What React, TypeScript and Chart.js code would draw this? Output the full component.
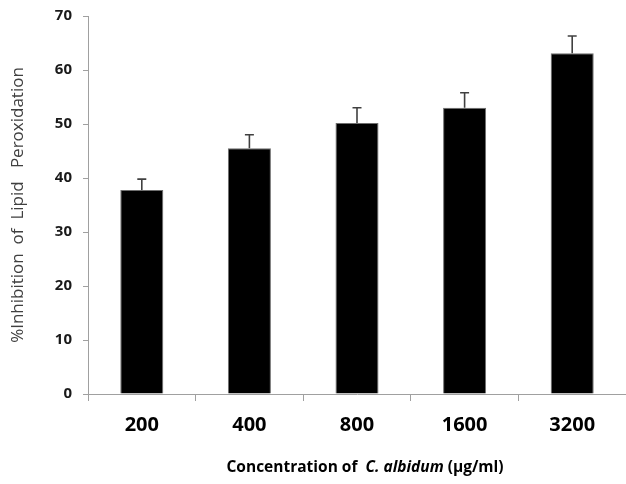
import React, { useEffect, useRef } from "react";
import { Chart, registerables } from "chart.js";

Chart.register(...registerables);

const categories = ["200", "400", "800", "1600", "3200"];
const values = [37.8, 45.5, 50.2, 53.0, 63.1];
const errors = [2.0, 2.5, 2.8, 2.8, 3.2];
const yTicks = [0, 10, 20, 30, 40, 50, 60, 70];

const FONT = "'Open Sans', 'Noto Sans', sans-serif";

const errorBarPlugin = {
  id: "errorBars",
  afterDatasetsDraw(chart: any) {
    const meta = chart.getDatasetMeta(0);
    const yScale = chart.scales.y;
    const ctx = chart.ctx;
    ctx.save();
    ctx.strokeStyle = "#404040";
    ctx.lineWidth = 1.6;
    meta.data.forEach((bar: any, i: number) => {
      const x = bar.x;
      const y0 = yScale.getPixelForValue(values[i]);
      const y1 = yScale.getPixelForValue(values[i] + errors[i]);
      ctx.beginPath();
      ctx.moveTo(x, y0);
      ctx.lineTo(x, y1);
      ctx.moveTo(x - 4.5, y1);
      ctx.lineTo(x + 4.5, y1);
      ctx.stroke();
    });
    ctx.restore();
  },
};

const xTitlePlugin = {
  id: "xTitle",
  afterDraw(chart: any) {
    const ctx = chart.ctx;
    const size = 15.5;
    const parts = [
      { t: "Concentration of  ", f: `bold ${size}px ${FONT}` },
      { t: "C. albidum", f: `italic bold ${size}px ${FONT}` },
      { t: " (µg/ml)", f: `bold ${size}px ${FONT}` },
    ];
    ctx.save();
    let total = 0;
    const widths = parts.map((p) => {
      ctx.font = p.f;
      const w = ctx.measureText(p.t).width;
      total += w;
      return w;
    });
    const ca = chart.chartArea;
    let x = (ca.left + ca.right) / 2 + 8 - total / 2;
    const y = 468;
    ctx.fillStyle = "#000000";
    ctx.textBaseline = "middle";
    ctx.textAlign = "left";
    parts.forEach((p, i) => {
      ctx.font = p.f;
      ctx.fillText(p.t, x, y);
      x += widths[i];
    });
    ctx.restore();
  },
};

export default function App() {
  const ref = useRef<HTMLCanvasElement>(null);
  useEffect(() => {
    document.body.style.margin = "0";
    const chart = new Chart(ref.current as HTMLCanvasElement, {
      type: "bar",
      data: {
        labels: categories,
        datasets: [
          {
            data: values,
            backgroundColor: "#000000",
            borderColor: "#6e6e6e",
            borderWidth: 1,
            categoryPercentage: 1,
            barPercentage: 0.4,
          },
        ],
      },
      options: {
        responsive: false,
        animation: false,
        layout: { padding: { top: 16, right: 0, left: 0, bottom: 0 } },
        plugins: { legend: { display: false }, tooltip: { enabled: false } },
        scales: {
          x: {
            grid: {
              offset: true,
              drawOnChartArea: false,
              drawTicks: true,
              tickLength: 7,
              color: "#a0a0a0",
            },
            border: { display: true, color: "#a0a0a0" },
            ticks: {
              color: "#000000",
              font: { family: FONT, size: 20, weight: "bold" },
              padding: 12,
              maxRotation: 0,
            },
            afterFit(scale: any) {
              scale.height = 90;
              scale.paddingLeft = 0;
              scale.paddingRight = 0;
            },
          },
          y: {
            min: 0,
            max: 70,
            afterBuildTicks(scale: any) {
              scale.ticks = yTicks.map((v) => ({ value: v }));
            },
            grid: {
              drawOnChartArea: false,
              drawTicks: true,
              tickLength: 5,
              color: "#a0a0a0",
            },
            border: { display: true, color: "#a0a0a0" },
            ticks: {
              color: "#1a1a1a",
              font: { family: FONT, size: 15, weight: "bold" },
              padding: 11,
            },
            title: {
              display: true,
              text: "%Inhibition  of  Lipid   Peroxidation",
              color: "#404040",
              font: { family: FONT, size: 17, weight: "normal" },
              padding: { top: 8, bottom: 0 },
            },
            afterFit(scale: any) {
              scale.width = 88;
              scale.paddingTop = 0;
              scale.paddingBottom = 0;
            },
          },
        },
      },
      plugins: [errorBarPlugin, xTitlePlugin],
    });
    return () => chart.destroy();
  }, []);
  return (
    <div style={{ width: 626, height: 484 }}>
      <canvas ref={ref} width={626} height={484} />
    </div>
  );
}
